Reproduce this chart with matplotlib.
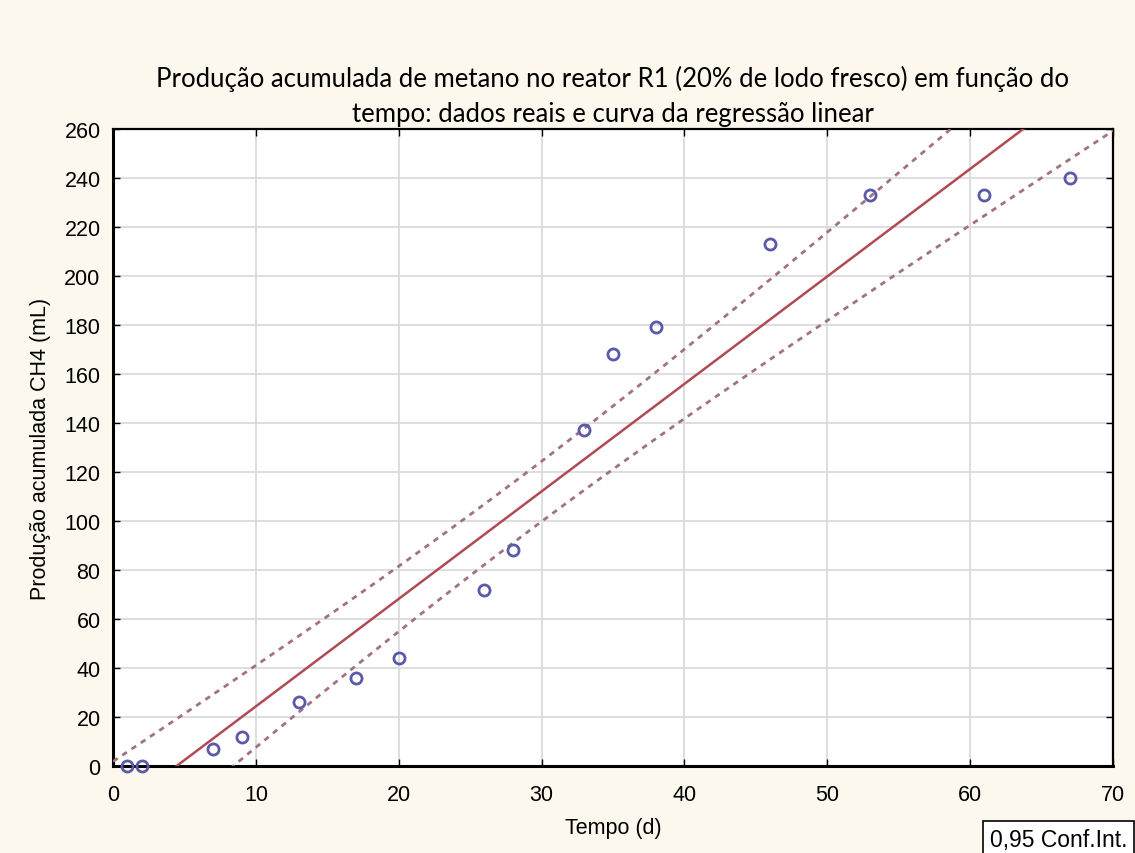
import numpy as np
import matplotlib.pyplot as plt

# Tempo (d) e produção acumulada de CH4 (mL), reator R1
tempo = [1, 2, 7, 9, 13, 17, 20, 26, 28, 33, 35, 38, 46, 53, 61, 67]
producao = [0, 0, 7, 12, 26, 36, 44, 72, 88, 137, 168, 179, 213, 233, 233, 240]

x_ticks = [0, 10, 20, 30, 40, 50, 60, 70]
y_ticks = list(range(0, 261, 20))
T_95 = 2.145  # t de Student, 14 graus de liberdade

x = np.array(tempo, dtype=float)
y = np.array(producao, dtype=float)
n = len(x)

# regressão linear e intervalo de confiança de 95% da média
b, a = np.polyfit(x, y, 1)
resid = y - (a + b * x)
s = np.sqrt((resid ** 2).sum() / (n - 2))
sxx = ((x - x.mean()) ** 2).sum()
xf = np.linspace(0, 70, 300)
yf = a + b * xf
half = T_95 * s * np.sqrt(1.0 / n + (xf - x.mean()) ** 2 / sxx)

plt.rcParams['font.family'] = ['Liberation Sans', 'DejaVu Sans']
fig = plt.figure(figsize=(11.35, 8.54), dpi=100, facecolor='#fcf8ee')
ax = fig.add_axes([0.0996, 0.1019, 0.8810, 0.7459])
ax.set_facecolor('white')

ax.plot(xf, yf, color='#b04a55', lw=1.8, zorder=3)
ax.plot(xf, yf + half, color='#a07282', lw=2.0, ls=(0, (2.0, 2.0)), zorder=3)
ax.plot(xf, yf - half, color='#a07282', lw=2.0, ls=(0, (2.0, 2.0)), zorder=3)
ax.plot(x, y, 'o', ms=8, mfc='none', mec='#5a5aa8', mew=2, zorder=4, clip_on=False)

ax.set_xlim(0, 70)
ax.set_ylim(0, 260)
ax.set_xticks(x_ticks)
ax.set_yticks(y_ticks)
ax.grid(True, color='#d8d8d8', lw=1.2)
ax.set_axisbelow(True)
ax.tick_params(direction='in', length=5, width=1, top=True, right=True,
               labelsize=15.5)
ax.tick_params(axis='x', pad=13)
ax.tick_params(axis='y', pad=9)
for side in ['left', 'bottom']:
    ax.spines[side].set_linewidth(2.2)
for side in ['top', 'right']:
    ax.spines[side].set_linewidth(1.6)

ax.set_xlabel('Tempo (d)', fontsize=15.5)
ax.xaxis.set_label_coords(0.5, -0.08)
ax.set_ylabel('Produção acumulada CH4 (mL)', fontsize=15.5)
ax.yaxis.set_label_coords(-0.062, 0.5)

fig.text(0.540, 0.887,
         'Produção acumulada de metano no reator R1 (20% de lodo fresco) em função do\n'
         'tempo: dados reais e curva da regressão linear',
         ha='center', va='center', fontsize=18.5, family=['Lato', 'DejaVu Sans'],
         linespacing=1.5)

fig.text(0.8722, 0.0082, '0,95 Conf.Int.', fontsize=16.5, ha='left', va='baseline',
         bbox=dict(boxstyle='square,pad=0.3', fc='white', ec='black', lw=1.2))

fig.savefig('out.png', dpi=100, facecolor=fig.get_facecolor())
